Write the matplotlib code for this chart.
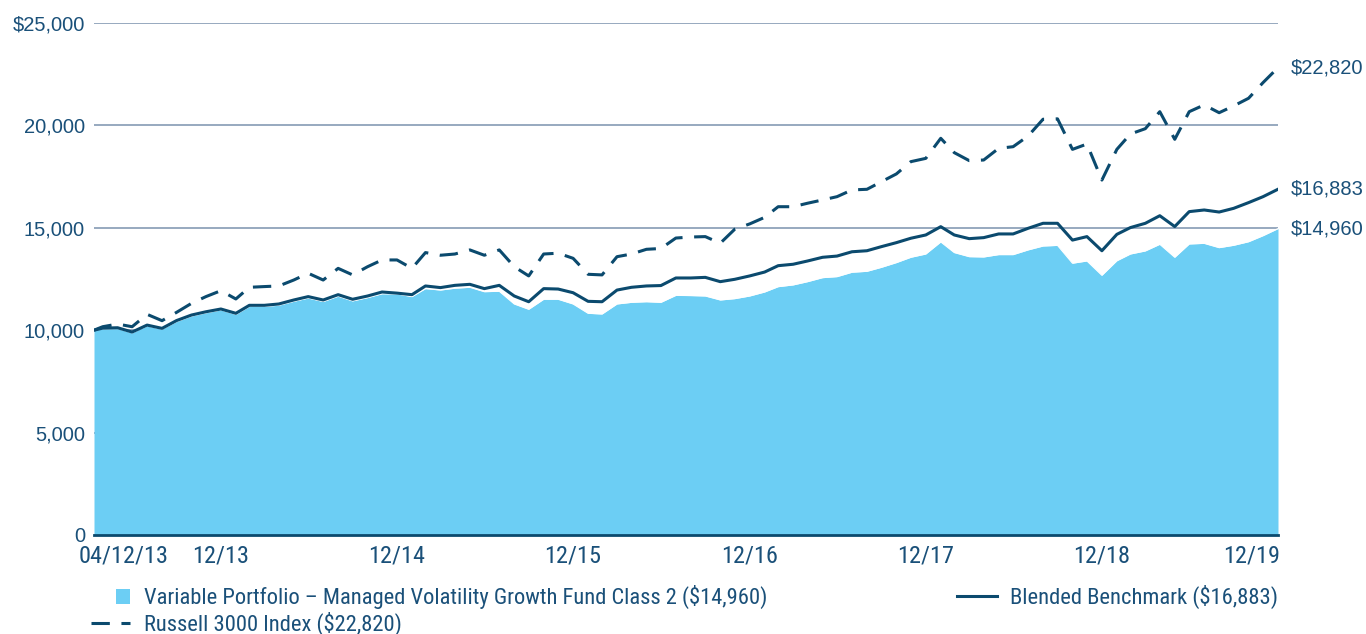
import pandas as pd
import matplotlib
matplotlib.use('Agg')
import matplotlib.pyplot as plt
from matplotlib import font_manager
from matplotlib.font_manager import FontProperties
from matplotlib.patches import Rectangle, Patch
from matplotlib.lines import Line2D
from matplotlib.legend_handler import HandlerPatch
from matplotlib.transforms import ScaledTranslation

# growth of $10,000, inception 04/12/13 then month ends to 12/31/19
start_date = '2013-04-12'
fund = [10000, 10060, 10080, 9870, 10210, 10050, 10420, 10690, 10850, 10990,
        10770, 11160, 11160, 11220, 11410, 11570, 11400, 11660, 11430, 11590,
        11780, 11770, 11640, 12030, 11960, 12050, 12095, 11880, 11900, 11280,
        11020, 11510, 11510, 11280, 10825, 10790, 11280, 11360, 11390, 11360,
        11700, 11690, 11670, 11475, 11540, 11670, 11865, 12125, 12210, 12370,
        12565, 12615, 12830, 12875, 13070, 13300, 13560, 13720, 14310, 13790,
        13590, 13575, 13690, 13690, 13920, 14110, 14140, 13270, 13380, 12680,
        13390, 13720, 13870, 14195, 13560, 14210, 14240, 14030, 14145, 14320,
        14615, 14960]
blended = [10000, 10100, 10120, 9910, 10250, 10090, 10470, 10740, 10900, 11035,
           10825, 11215, 11215, 11280, 11475, 11640, 11475, 11735, 11510, 11670,
           11865, 11810, 11735, 12160, 12080, 12190, 12240, 12030, 12190, 11670,
           11390, 12030, 12010, 11830, 11410, 11390, 11960, 12095, 12160, 12180,
           12550, 12550, 12580, 12370, 12485, 12650, 12840, 13150, 13220, 13380,
           13560, 13620, 13830, 13880, 14080, 14275, 14490, 14650, 15055, 14650,
           14470, 14520, 14700, 14700, 14975, 15220, 15220, 14400, 14570, 13880,
           14680, 15010, 15220, 15590, 15060, 15790, 15870, 15770, 15950, 16230,
           16520, 16883]
russell = [10000, 10170, 10300, 10170, 10775, 10465, 10870, 11310, 11640, 11930,
           11525, 12095, 12130, 12160, 12450, 12780, 12450, 13020, 12700, 13100,
           13430, 13430, 13020, 13790, 13660, 13720, 13920, 13660, 13920, 13100,
           12650, 13720, 13760, 13510, 12730, 12700, 13590, 13720, 13950, 13990,
           14500, 14550, 14570, 14245, 14930, 15190, 15510, 16030, 16030, 16200,
           16360, 16520, 16850, 16880, 17250, 17630, 18230, 18390, 19370, 18670,
           18280, 18310, 18880, 18960, 19480, 20300, 20320, 18830, 19090, 17330,
           18830, 19580, 19840, 20670, 19320, 20670, 21000, 20620, 20950, 21325,
           22090, 22820]

tick_dates = ['2013-04-12', '2013-12-31', '2014-12-31', '2015-12-31',
              '2016-12-31', '2017-12-31', '2018-12-31', '2019-12-31']
tick_labels = ['04/12/13', '12/13', '12/14', '12/15', '12/16', '12/17', '12/18', '12/19']
y_ticks = [0, 5000, 10000, 15000, 20000, 25000]
y_labels = ['0', '5,000', '10,000', '15,000', '20,000', '$25,000']

fund_label = 'Variable Portfolio \u2013 Managed Volatility Growth Fund Class 2 ($14,960)'
blended_label = 'Blended Benchmark ($16,883)'
russell_label = 'Russell 3000 Index ($22,820)'

FILL = '#6CCEF4'
NAVY = '#0B4A6E'
TEXT = '#1A5079'
GRID = '#8FA3BA'
REGULAR = ['Liberation Sans', 'DejaVu Sans']


def narrow_font(size):
    # the reference uses a condensed face; take whichever narrow file is installed
    files = [f.fname for f in font_manager.fontManager.ttflist]
    for key in ['LiberationSansNarrow-Regular', 'RobotoCondensed-Regular',
                'OpenSans_Condensed-Regular', 'DejaVuSansCondensed.ttf']:
        for fn in files:
            if key in fn:
                return FontProperties(fname=fn, size=size)
    return FontProperties(family='DejaVu Sans', size=size * 0.82)


dates = [pd.Timestamp(start_date)] + list(
    pd.date_range('2013-04-30', periods=len(fund) - 1, freq=pd.offsets.MonthEnd()))

fig = plt.figure(figsize=(13.66, 6.34), dpi=100)
ax = fig.add_axes([94 / 1366, 1 - 535 / 634, 1184 / 1366, 512 / 634])

ax.fill_between(dates, fund, 0, color=FILL, lw=0, zorder=2)
ax.plot(dates, fund, color='white', lw=0.8, zorder=3)
ax.plot(dates, russell, color=NAVY, lw=2.2, ls=(0, (6, 3.8)), zorder=4)
ax.plot(dates, blended, color=NAVY, lw=2.2, zorder=4)

ax.set_xlim(pd.Timestamp(start_date), pd.Timestamp('2019-12-31'))
ax.set_ylim(0, 25000)
ax.set_yticks(y_ticks)
ax.set_yticklabels(y_labels, family=REGULAR, fontsize=14.5, color=TEXT)
ax.yaxis.grid(True, color=GRID, lw=1.3)
ax.set_axisbelow(True)
ax.set_xticks([pd.Timestamp(d) for d in tick_dates])
ax.set_xticklabels(tick_labels, fontproperties=narrow_font(17.5), color=TEXT)
ax.tick_params(axis='both', length=0)
ax.tick_params(axis='y', pad=6.5)
ax.tick_params(axis='x', pad=7)
for side in ['top', 'right', 'left']:
    ax.spines[side].set_visible(False)
ax.spines['bottom'].set_color(NAVY)
ax.spines['bottom'].set_linewidth(2)
ax.spines['bottom'].set_zorder(5)

xt = ax.get_xticklabels()
xt[0].set_horizontalalignment('left')
xt[0].set_transform(xt[0].get_transform() + ScaledTranslation(-15 / 100, 0, fig.dpi_scale_trans))
xt[-1].set_horizontalalignment('right')
xt[-1].set_transform(xt[-1].get_transform() + ScaledTranslation(2 / 100, 0, fig.dpi_scale_trans))

for series in [russell, blended, fund]:
    ax.annotate('${:,}'.format(series[-1]), xy=(dates[-1], series[-1]),
                xytext=(9, 0), textcoords='offset points', va='center', ha='left',
                family=REGULAR, fontsize=14.5, color=TEXT, annotation_clip=False)


class SquareHandler(HandlerPatch):
    def create_artists(self, legend, orig_handle, xdescent, ydescent,
                       width, height, fontsize, trans):
        side = 0.66 * fontsize
        r = Rectangle((width - side - xdescent, (height - side) / 2 - ydescent), side, side,
                      facecolor=orig_handle.get_facecolor(), lw=0, transform=trans)
        return [r]


handles = [Patch(facecolor=FILL),
           Line2D([], [], color=NAVY, lw=2.2, ls=(0, (6, 3.8))),
           Line2D([], [], color=NAVY, lw=2.2)]
labels = [fund_label, russell_label, blended_label]
LEG_SIZE = 16.2
anchor = (91 / 1366, 1 - 585 / 634)


def make_legend(colspace):
    lg = fig.legend(handles, labels, loc='upper left', bbox_to_anchor=anchor,
                    ncol=2, frameon=False, prop=narrow_font(LEG_SIZE),
                    handlelength=1.75, handletextpad=0.6, columnspacing=colspace,
                    labelspacing=0.12, borderpad=0, borderaxespad=0,
                    handler_map={Patch: SquareHandler()})
    for t in lg.get_texts():
        t.set_color(TEXT)
    return lg


leg = make_legend(8.0)
# push the second legend column so its right edge sits on the plot's right edge
fig.canvas.draw()
bt = leg.get_texts()[2].get_window_extent(fig.canvas.get_renderer())
cs = 8.0 + (1278 - bt.x1) / (LEG_SIZE * fig.dpi / 72)
leg.remove()
leg = make_legend(cs)

fig.savefig('out.png', dpi=100)
